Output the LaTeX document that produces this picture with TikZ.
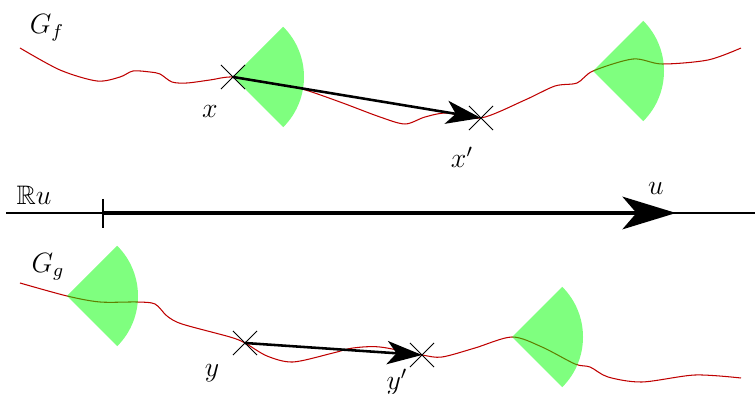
\documentclass[tikz,border=0pt]{standalone}
\usepackage{amssymb}
\usetikzlibrary{arrows.meta,shapes.misc}
\tikzset{
  graphline/.style={draw=red!75!black, line width=0.45pt},
  sector/.style={fill=green, fill opacity=0.5},
  crossmark/.style={cross out, draw=black, line width=0.4pt, minimum size=10pt, inner sep=0pt},
  moveto/.style={line width=1.1pt, -{Stealth[length=15pt,width=10pt,inset=4pt]}},
  axisarrow/.style={line width=1.7pt, -{Stealth[length=23pt,width=14pt,inset=6pt]}},
  lbl/.style={inner sep=0pt, font=\fontsize{11.5}{13}\selectfont}
}
\begin{document}
\begin{tikzpicture}[x=0.43pt,y=-0.43pt]
\useasboundingbox (0,0) rectangle (755,394);
% top graph
\draw[graphline] plot[smooth,tension=0.5] coordinates {(20,48) (60,70) (97,81) (120,77) (133,71) (150,72) (160,74) (172,82) (187,83) (210,80) (233,77) (270,83) (302,89) (340,102) (380,117) (405,124) (425,117) (447,113) (481,118) (525,100) (555,86) (577,83) (593,71) (633,59) (662,64) (708,60) (741,48)};
\fill[sector] (233,77) -- ++(-45:71) arc[start angle=-45,end angle=45,radius=71] -- cycle;
\fill[sector] (593,71) -- ++(-45:71) arc[start angle=-45,end angle=45,radius=71] -- cycle;
\node[crossmark] (x) at (233,77) {};
\node[crossmark] (xp) at (481,118) {};
\draw[moveto] (x.center) -- (xp.center);
\node[lbl] (lx) at (210,111) {$x$};
\node[lbl] (lxp) at (462,157) {$x'$};
\node[lbl] (gf) at (47,28) {$G_f$};
% axis
\coordinate (al) at (6,213);
\coordinate (ar) at (755,213);
\draw[line width=0.5pt] (al) -- (ar);
\coordinate (o) at (103,213);
\coordinate (u) at (676,213);
\draw[line width=1pt] (103,199) -- (103,228);
\draw[axisarrow] (o) -- (u);
\node[lbl] (lu) at (656,188) {$u$};
\node[lbl] (lru) at (34,195) {$\mathbb{R}u$};
% bottom graph
\draw[graphline] plot[smooth,tension=0.5] coordinates {(20,283) (67,296) (100,302) (137,302) (155,304) (167,316) (182,324) (230,337) (245,343) (267,356) (293,362) (333,353) (353,348) (380,347) (422,355) (442,357) (475,348) (512,337) (542,347) (575,364) (590,367) (608,377) (642,382) (695,375) (741,378)};
\fill[sector] (67,296) -- ++(-45:71) arc[start angle=-45,end angle=45,radius=71] -- cycle;
\fill[sector] (512,337) -- ++(-45:71) arc[start angle=-45,end angle=45,radius=71] -- cycle;
\node[crossmark] (y) at (245,343) {};
\node[crossmark] (yp) at (422,355) {};
\draw[moveto] (y.center) -- (yp.center);
\node[lbl] (ly) at (212,373) {$y$};
\node[lbl] (lyp) at (397,382) {$y'$};
\node[lbl] (gg) at (48,267) {$G_g$};
\end{tikzpicture}
\end{document}
